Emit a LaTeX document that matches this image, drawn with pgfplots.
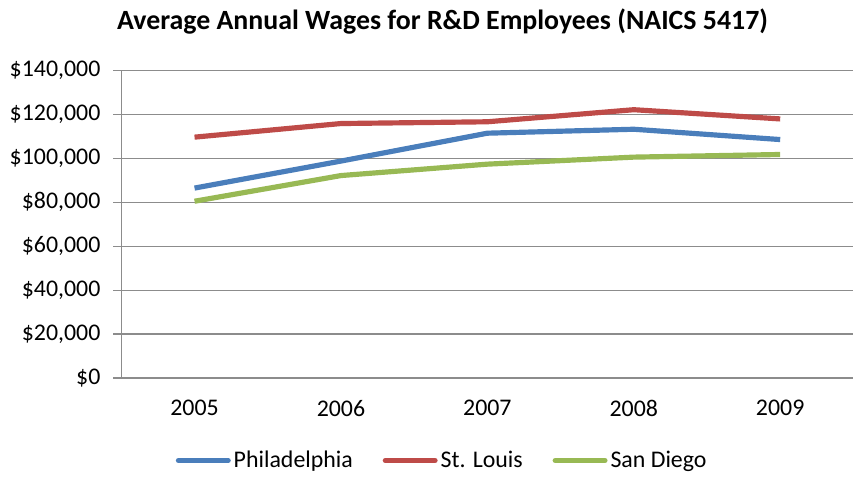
\documentclass[border=0pt]{standalone}
\usepackage{pgfplots}
\pgfplotsset{compat=1.18}
\usepackage{fontspec}
\setmainfont{Carlito}
\definecolor{cblue}{HTML}{4A7EBB}
\definecolor{cred}{HTML}{BE4B48}
\definecolor{cgreen}{HTML}{98B954}
\definecolor{gridgray}{HTML}{8C8C8C}
\begin{document}
\begin{tikzpicture}
\begin{axis}[
  name=ax, at={(0,0)}, anchor=south west,
  scale only axis, width=368pt, height=154.5pt,
  xmin=-0.5, xmax=4.5, ymin=0, ymax=140000,
  axis lines*=left,
  axis line style={gridgray, line width=0.6pt},
  xtick={0,1,2,3,4},
  xticklabels={2005,2006,2007,2008,2009},
  major x tick style={draw=none},
  extra x ticks={-0.5,0.5,1.5,2.5,3.5,4.5},
  extra x tick labels={},
  extra x tick style={major tick length=3.5pt, tick align=outside, tick style={gridgray, line width=0.6pt}, grid=none},
  scaled y ticks=false,
  ytick={0,20000,40000,60000,80000,100000,120000,140000},
  yticklabels={{\$0},{\$20,000},{\$40,000},{\$60,000},{\$80,000},{\$100,000},{\$120,000},{\$140,000}},
  ymajorgrids,
  grid style={gridgray, line width=0.6pt},
  major y tick style={gridgray, line width=0.6pt},
  tick align=outside, major tick length=4pt,
  ticklabel style={font=\fontsize{12pt}{14pt}\selectfont, text=black},
  xticklabel style={yshift=-3.5pt},
  yticklabel style={xshift=-3pt},
  clip=false,
  legend columns=3,
  legend style={at={(0.439,-41.5pt)}, anchor=center, draw=none, fill=none,
    font=\fontsize{12pt}{14pt}\selectfont,
    nodes={inner xsep=1.5pt},
    /tikz/every even column/.append style={column sep=13.5pt},
    inner sep=0pt},
  legend image code/.code={\draw[#1, line cap=round] (0pt,0pt) -- (25pt,0pt);},
]
\addplot[cblue, line width=2.6pt, line join=round] coordinates {(0,86500) (1,98800) (2,111500) (3,113300) (4,108600)};
\addlegendentry{Philadelphia}
\addplot[cred, line width=2.6pt, line join=round] coordinates {(0,109700) (1,115900) (2,116700) (3,122200) (4,118000)};
\addlegendentry{St. Louis}
\addplot[cgreen, line width=2.6pt, line join=round] coordinates {(0,80500) (1,92200) (2,97400) (3,100600) (4,101800)};
\addlegendentry{San Diego}
\end{axis}
\node[font=\bfseries\fontsize{14pt}{16pt}\selectfont, anchor=center] at (161.5pt,179pt) {Average Annual Wages for R\&D Employees (NAICS 5417)};
\path[use as bounding box] (-61pt,-49.5pt) rectangle (369pt,190pt);
\end{tikzpicture}
\end{document}
